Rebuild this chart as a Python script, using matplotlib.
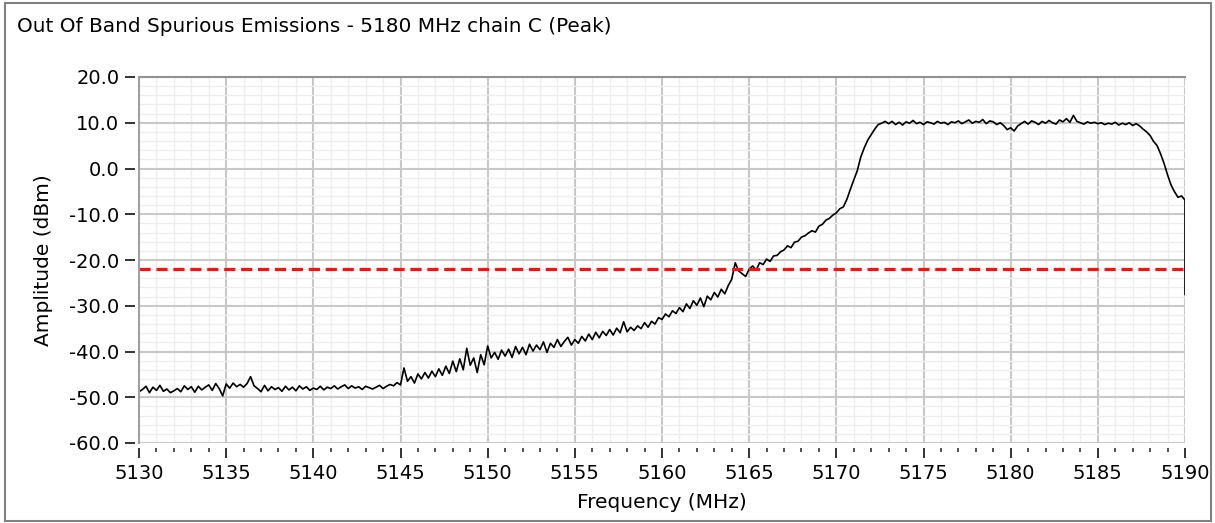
import numpy as np
import matplotlib
matplotlib.use("Agg")
import matplotlib.pyplot as plt
from matplotlib.ticker import MultipleLocator, FormatStrFormatter
from matplotlib.patches import Rectangle
from matplotlib.lines import Line2D

plt.rcParams['font.family'] = ['DejaVu Sans']
plt.rcParams['axes.unicode_minus'] = False

title = "Out Of Band Spurious Emissions - 5180 MHz chain C (Peak)"
x_label = "Frequency (MHz)"
y_label = "Amplitude (dBm)"

f_start, f_stop, f_step = 5130.0, 5190.0, 0.2
limit_dbm = -22.0

amplitude = [
    # 5130.0 - 5131.8
    -48.8, -48.3, -47.6, -49.0, -47.8, -48.5, -47.4, -48.7, -48.2, -49.0,
    # 5132.0 - 5133.8
    -48.6, -48.1, -48.8, -47.5, -48.3, -47.7, -48.9, -47.6, -48.4, -47.8,
    # 5134.0 - 5135.8
    -47.3, -48.5, -47.0, -48.1, -49.7, -47.1, -48.0, -46.9, -47.7, -47.2,
    # 5136.0 - 5137.8
    -47.8, -47.0, -45.5, -47.5, -48.1, -48.8, -47.4, -48.6, -47.7, -48.3,
    # 5138.0 - 5139.8
    -47.9, -48.7, -47.6, -48.4, -47.8, -48.6, -47.5, -48.2, -47.7, -48.5,
    # 5140.0 - 5141.8
    -48.0, -48.3, -47.6, -48.4, -47.8, -48.1, -47.5, -48.2, -47.7, -47.3,
    # 5142.0 - 5143.8
    -48.1, -47.5, -48.0, -47.7, -48.3, -47.6, -47.9, -48.2, -47.8, -47.4,
    # 5144.0 - 5144.8
    -48.1, -47.6, -47.2, -47.5, -46.8,
    # 5145.0 - 5146.8
    -47.3, -43.6, -46.5, -45.5, -46.9, -44.9, -46.0, -44.6, -45.8, -44.3,
    # 5147.0 - 5148.8
    -45.5, -43.8, -45.2, -43.2, -44.8, -42.1, -44.4, -41.6, -44.0, -39.3,
    # 5149.0 - 5150.8
    -43.0, -41.4, -44.6, -40.7, -42.9, -38.8, -41.4, -40.2, -41.7, -39.7,
    # 5151.0 - 5152.8
    -41.0, -39.5, -41.3, -38.9, -40.5, -39.1, -40.7, -38.4, -39.9, -38.6,
    # 5153.0 - 5154.8
    -39.6, -37.9, -40.2, -38.2, -39.1, -37.4, -38.9, -37.8, -36.9, -38.6,
    # 5155.0 - 5156.8
    -37.4, -38.2, -36.7, -37.7, -36.2, -37.4, -35.8, -37.0, -35.6, -36.5,
    # 5157.0 - 5158.8
    -35.2, -36.4, -34.9, -35.9, -33.5, -35.7, -34.7, -35.4, -34.4, -35.0,
    # 5159.0 - 5160.8
    -33.7, -34.7, -33.4, -34.0, -32.6, -33.0, -31.8, -32.4, -31.1, -31.7,
    # 5161.0 - 5162.8
    -30.4, -31.3, -29.6, -30.6, -28.9, -29.9, -28.3, -30.2, -27.9, -28.7,
    # 5163.0 - 5164.8
    -27.1, -28.1, -26.4, -27.4, -25.6, -24.2, -20.6, -22.4, -23.0, -23.6,
    # 5165.0 - 5166.8
    -22.0, -21.3, -22.2, -20.6, -21.0, -19.8, -20.3, -19.1, -19.0, -18.2,
    # 5167.0 - 5168.8
    -17.8, -16.9, -17.3, -16.1, -15.9, -15.0, -14.7, -14.1, -13.6, -13.9,
    # 5169.0 - 5170.8
    -12.6, -12.2, -11.3, -10.9, -10.2, -9.7, -8.8, -8.4, -6.8, -4.6,
    # 5171.0 - 5172.8
    -2.5, -0.5, 2.5, 4.5, 6.2, 7.4, 8.6, 9.6, 9.9, 10.3,
    # 5173.0 - 5174.8
    9.8, 10.3, 9.6, 10.1, 9.5, 10.2, 9.9, 10.5, 9.8, 10.1,
    # 5175.0 - 5176.8
    9.6, 10.2, 10.0, 9.7, 10.3, 9.9, 10.1, 9.6, 10.2, 10.0,
    # 5177.0 - 5178.8
    10.4, 9.8, 10.2, 10.6, 9.9, 10.3, 10.1, 10.7, 9.8, 10.4,
    # 5179.0 - 5180.8
    10.2, 9.6, 10.0, 9.4, 8.5, 8.9, 8.2, 9.3, 9.8, 10.3,
    # 5181.0 - 5182.8
    9.7, 10.4, 10.1, 9.6, 10.3, 9.9, 10.5, 10.0, 9.7, 10.6,
    # 5183.0 - 5184.8
    10.2, 10.9, 10.1, 11.6, 10.3, 10.0, 9.7, 10.2, 9.9, 10.1,
    # 5185.0 - 5186.8
    9.8, 10.0, 9.6, 9.9, 9.7, 10.1, 9.5, 9.9, 9.6, 10.0,
    # 5187.0 - 5188.8
    9.4, 9.8, 9.3, 8.6, 8.0, 7.2, 5.9, 5.0, 3.2, 1.1,
    # 5189.0 - 5190.0
    -1.4, -3.6, -5.1, -6.3, -6.0, -6.9,
]
# final sweep point (vertical drop at the stop frequency)
end_freq = 5190.0
end_amp = -27.5

freq = np.round(np.arange(f_start, f_stop + f_step / 2, f_step), 3)
freq = np.append(freq, end_freq)
amp = np.append(np.array(amplitude), end_amp)

fig = plt.figure(figsize=(12.15, 5.23), dpi=100)
fig.patch.set_facecolor("white")
ax = fig.add_axes([139 / 1215, 1 - 443 / 523, (1185 - 139) / 1215, (443 - 77) / 523])

ax.set_xlim(5130, 5190)
ax.set_ylim(-60, 20)
ax.xaxis.set_major_locator(MultipleLocator(5))
ax.xaxis.set_minor_locator(MultipleLocator(1))
ax.yaxis.set_major_locator(MultipleLocator(10))
ax.yaxis.set_minor_locator(MultipleLocator(2))
ax.yaxis.set_major_formatter(FormatStrFormatter("%.1f"))
ax.xaxis.set_major_formatter(FormatStrFormatter("%d"))

ax.grid(which="major", color="#c8c8c8", linewidth=1.5)
ax.grid(which="minor", color="#eeeeee", linewidth=1.0)
ax.set_axisbelow(True)

# ticks sit slightly away from the plot area
ax.spines["right"].set_visible(False)
ax.spines["left"].set_position(("outward", 3))
ax.spines["left"].set_color("none")
ax.spines["bottom"].set_position(("outward", 3.6))
ax.spines["bottom"].set_color("none")
ax.spines["top"].set_color("#909090")
ax.spines["top"].set_linewidth(1.5)
ax.add_line(Line2D([0, 0], [0, 1], transform=ax.transAxes, color="#a0a0a0",
                   linewidth=1.5, clip_on=False, zorder=5))

ax.tick_params(axis="x", which="major", length=7.2, width=1.3, color="#222222",
               labelsize=14, pad=4)
ax.tick_params(axis="x", which="minor", length=3.2, width=1.1, color="#222222")
ax.tick_params(axis="y", which="major", length=7.2, width=1.3, color="#222222",
               labelsize=14, pad=4)
ax.tick_params(axis="y", which="minor", length=0)

ax.plot(freq, amp, color="black", linewidth=1.2, zorder=3)
ax.axhline(limit_dbm, color="#ff1010", linewidth=2.3, dashes=(3.5, 1.8), zorder=4)

ax.set_xlabel(x_label, fontsize=14.5)
ax.set_ylabel(y_label, fontsize=14.5)
ax.xaxis.set_label_coords(0.5, (523 - 502 - 80) / 366)
ax.xaxis.label.set_va("center")
ax.yaxis.set_label_coords((44 - 139) / 1046, 0.5)
ax.yaxis.label.set_va("center")

fig.text(17 / 1215, 1 - 27 / 523, title, fontsize=14.4, ha="left", va="center")

fig.patches.append(Rectangle((5 / 1215, 2 / 523), 1206 / 1215, 518 / 523,
                             transform=fig.transFigure, fill=False,
                             edgecolor="#808080", linewidth=1.5))

fig.savefig("out.png", dpi=100, facecolor="white")
